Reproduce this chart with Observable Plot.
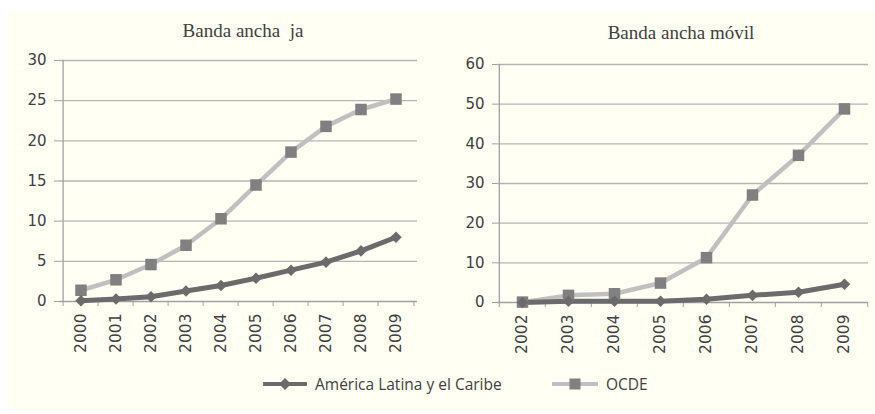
<!DOCTYPE html>
<html>
<head>
<meta charset="utf-8">
<script src="https://cdn.jsdelivr.net/npm/d3@7"></script>
<script src="https://cdn.jsdelivr.net/npm/@observablehq/plot@0.6"></script>
<style>
  html, body { margin: 0; padding: 0; background: #ffffff; }
  #page { position: relative; width: 875px; height: 414px; overflow: hidden; background: #ffffff; }
  #panel { position: absolute; left: 7px; top: 10px; width: 868px; height: 400px; background: #fffff4; }
  .chart { position: absolute; top: 0; }
  .chart text { font-family: "DejaVu Sans", sans-serif; }
  .title { position: absolute; font-family: "Liberation Serif", "DejaVu Serif", serif; font-size: 19px; color: #404040; white-space: pre; transform: translate(-50%, -50%); }
  .legend { position: absolute; top: 373px; height: 22px; display: flex; align-items: center; font-family: "Open Sans", sans-serif; font-size: 15.5px; color: #404040; }
  .legend svg { margin-right: 8px; }
</style>
</head>
<body>
<div id="page">
  <div id="panel"></div>
  <div id="left" class="chart" style="left:0px"></div>
  <div id="right" class="chart" style="left:440px"></div>
  <div class="title" style="left:243px; top:31px">Banda ancha  ja</div>
  <div class="title" style="left:681px; top:33px">Banda ancha móvil</div>
  <div class="legend" style="left:263px">
    <svg width="44" height="14"><line x1="0" x2="44" y1="7" y2="7" stroke="#6b6b6b" stroke-width="4"/><path d="M22 1 L28 7 L22 13 L16 7 Z" fill="#6b6b6b"/></svg>
    <span>América Latina y el Caribe</span>
  </div>
  <div class="legend" style="left:552px">
    <svg width="46" height="14"><line x1="0" x2="46" y1="7" y2="7" stroke="#c0c0c0" stroke-width="4"/><rect x="17.5" y="1.5" width="11" height="11" fill="#808080"/></svg>
    <span>OCDE</span>
  </div>
</div>
<script>
// ---- Data ----
const yearsFija = [2000, 2001, 2002, 2003, 2004, 2005, 2006, 2007, 2008, 2009];
const latamFija = [0.1, 0.3, 0.6, 1.3, 2.0, 2.9, 3.9, 4.9, 6.3, 8.0];
const ocdeFija  = [1.4, 2.7, 4.6, 7.0, 10.3, 14.5, 18.6, 21.8, 23.9, 25.2];
const yTicksFija = [0, 5, 10, 15, 20, 25, 30];

const yearsMovil = [2002, 2003, 2004, 2005, 2006, 2007, 2008, 2009];
const latamMovil = [0.0, 0.3, 0.3, 0.3, 0.8, 1.8, 2.6, 4.6];
const ocdeMovil  = [0.1, 1.8, 2.2, 4.9, 11.3, 27.1, 37.1, 48.8];
const yTicksMovil = [0, 10, 20, 30, 40, 50, 60];

const seriesNames = ["América Latina y el Caribe", "OCDE"];

// ---- Styles ----
const gridColor = "#b4b4b4";
const axisColor = "#a0a0a0";
const textColor = "#404040";
const latamColor = "#6b6b6b";
const ocdeLine = "#c0c0c0";
const ocdeMarker = "#808080";
const tickFont = "DejaVu Sans";

function makeChart({years, latam, ocde, yTicks, width, height, margins}) {
  const [mt, mr, mb, ml] = margins;
  const bw = (width - ml - mr) / years.length;
  const rowsL = years.map((y, i) => ({year: y, value: latam[i], series: seriesNames[0]}));
  const rowsO = years.map((y, i) => ({year: y, value: ocde[i], series: seriesNames[1]}));
  const yMax = d3.max(yTicks);
  return Plot.plot({
    width, height,
    marginTop: mt, marginRight: mr, marginBottom: mb, marginLeft: ml,
    style: {background: "transparent", fontFamily: "'DejaVu Sans', sans-serif", color: textColor},
    x: {type: "band", domain: years, padding: 0, label: null},
    y: {domain: [0, yMax], label: null},
    marks: [
      Plot.ruleY(yTicks.slice(1), {stroke: gridColor, strokeWidth: 1.3}),
      Plot.ruleY(yTicks.slice(0, 1), {stroke: axisColor, strokeWidth: 1.3}),
      Plot.ruleX(years.slice(0, 1), {x: d => d, dx: -bw / 2, y1: 0, y2: yMax, stroke: axisColor, strokeWidth: 1.3}),
      Plot.axisY({ticks: yTicks, label: null, tickSize: 5, tickPadding: 8, fontSize: 15, fontFamily: tickFont, stroke: axisColor, fill: textColor}),
      Plot.axisX({ticks: years, label: null, tickSize: 5, tickFormat: () => "", dx: -bw / 2, stroke: axisColor}),
      Plot.axisX({ticks: years.slice(-1), label: null, tickSize: 5, tickFormat: () => "", dx: bw / 2, stroke: axisColor}),
      Plot.axisX({ticks: years, label: null, tickSize: 0, tickPadding: 12, tickRotate: -90, fontSize: 15.5, fontFamily: tickFont, fill: textColor, tickFormat: d => String(d)}),
      Plot.line(rowsO, {x: "year", y: "value", stroke: ocdeLine, strokeWidth: 4.5}),
      Plot.line(rowsL, {x: "year", y: "value", stroke: latamColor, strokeWidth: 5}),
      Plot.dot(rowsO, {x: "year", y: "value", symbol: "square", r: 6.5, fill: ocdeMarker, stroke: "none"}),
      Plot.dot(rowsL, {x: "year", y: "value", symbol: "diamond2", r: 5.2, fill: latamColor, stroke: "none"})
    ]
  });
}

document.getElementById("left").append(makeChart({
  years: yearsFija, latam: latamFija, ocde: ocdeFija, yTicks: yTicksFija,
  width: 440, height: 360, margins: [60, 23, 59, 59]
}));
document.getElementById("right").append(makeChart({
  years: yearsMovil, latam: latamMovil, ocde: ocdeMovil, yTicks: yTicksMovil,
  width: 435, height: 360, margins: [64, 7, 58, 57]
}));
</script>
</body>
</html>
